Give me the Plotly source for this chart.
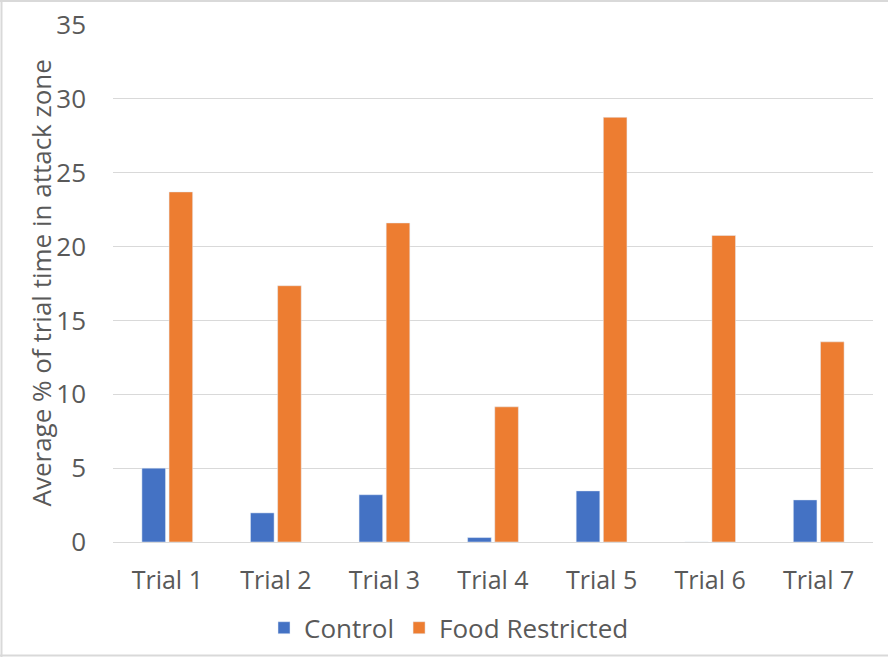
import plotly.graph_objects as go

categories = ["Trial 1", "Trial 2", "Trial 3", "Trial 4", "Trial 5", "Trial 6", "Trial 7"]
control = [5.0, 1.97, 3.2, 0.3, 3.46, 0.0, 2.85]
food_restricted = [23.7, 17.35, 21.6, 9.15, 28.75, 20.75, 13.55]
y_ticks = [0, 5, 10, 15, 20, 25, 30, 35]

W, H = 888, 657
ML, MR, MT, MB = 113, 15, 25, 115
pw, ph = W - ML - MR, H - MT - MB

FONT = "Open Sans, Liberation Sans, sans-serif"
GRAY = "#595959"
BORDER = "#D9D9D9"

fig = go.Figure()
fig.add_trace(go.Bar(name="Control", x=categories, y=control, marker_color="#4472C4"))
fig.add_trace(go.Bar(name="Food Restricted", x=categories, y=food_restricted, marker_color="#ED7D31"))

def px_x(p):
    return (p - ML) / pw

def px_y(p):
    return ((H - MB) - p) / ph

fig.update_layout(
    width=W, height=H,
    margin=dict(l=ML, r=MR, t=MT, b=MB, autoexpand=False),
    paper_bgcolor="white", plot_bgcolor="white",
    barmode="group", bargap=0.5, bargroupgap=0.13,
    font=dict(family=FONT, color=GRAY, size=25),
    legend=dict(orientation="h", xref="container", x=449 / W, xanchor="center",
                y=-0.166, yanchor="middle",
                font=dict(size=26, color=GRAY), traceorder="normal",
                itemwidth=30, tracegroupgap=0),
    xaxis=dict(showgrid=False, showline=True, linecolor=BORDER, linewidth=1,
               automargin=False,
               ticks="", tickfont=dict(size=25, color=GRAY), ticklabelstandoff=16),
    yaxis=dict(range=[0, 35], tickvals=y_ticks, showgrid=True, gridcolor=BORDER,
               automargin=False,
               gridwidth=1, zeroline=False, showline=False, ticks="",
               tickfont=dict(size=26, color=GRAY), ticklabelstandoff=26),
    annotations=[dict(text="Average % of trial time in attack zone", textangle=-90,
                      xref="paper", yref="paper", x=px_x(40), y=0.5,
                      xanchor="center", yanchor="middle", showarrow=False,
                      font=dict(size=26, color=GRAY))],
    shapes=[
        dict(type="line", xref="paper", yref="paper", x0=px_x(0), x1=px_x(W),
             y0=px_y(1), y1=px_y(1), line=dict(color=BORDER, width=2)),
        dict(type="line", xref="paper", yref="paper", x0=px_x(1.5), x1=px_x(1.5),
             y0=px_y(0), y1=px_y(H), line=dict(color=BORDER, width=2)),
        dict(type="line", xref="paper", yref="paper", x0=px_x(0), x1=px_x(W),
             y0=px_y(655.5), y1=px_y(655.5), line=dict(color=BORDER, width=2)),
    ],
)

fig.write_html("out.html", config={"displayModeBar": False},
               post_script="document.body.style.margin='0';")
